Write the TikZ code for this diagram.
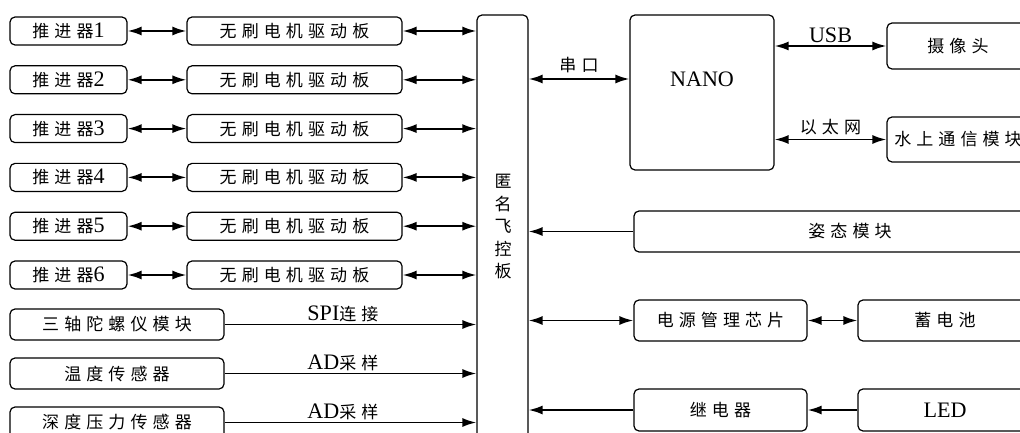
\documentclass[tikz,border=0pt]{standalone}
\usepackage{fontspec}
\setmainfont{Liberation Serif}[Scale=1.3]
\newfontfamily\cjk[LetterSpace=30]{Noto Sans CJK SC}
\newcommand{\hz}[1]{{\cjk #1}}
\usetikzlibrary{arrows.meta}
\begin{document}
\begin{tikzpicture}[x=1pt,y=-1pt,
  box/.style={draw,line width=1.2pt,rounded corners=5pt,inner sep=0pt,align=center,font=\fontsize{17}{20}\selectfont},
  tip/.tip={Latex[length=14pt,width=9pt]},
  conn/.style={line width=1.9pt,-tip},
  bconn/.style={line width=1.9pt,tip-tip},
  lbl/.style={font=\fontsize{17}{20}\selectfont,inner sep=0pt}
]
\useasboundingbox (0,0) rectangle (1020,433);
\clip (0,0) rectangle (1020,433);

% flight controller board
\node[box,minimum width=51,minimum height=445] (board) at (502.5,237.5) {};
\node[lbl,align=center,font=\fontsize{17}{22.5}\selectfont] (boardtxt) at (503,227) {\hz{匿}\\\hz{名}\\\hz{飞}\\\hz{控}\\\hz{板}};

% thrusters and drivers
\foreach \i/\y in {1/31,2/79.8,3/128.6,4/177.4,5/226.2,6/275}{
  \node[box,minimum width=117,minimum height=28] (t\i) at (68.5,\y) {\hz{推进器}\i};
  \node[box,minimum width=215,minimum height=28] (d\i) at (294.5,\y) {\hz{无刷电机驱动板}};
  \draw[bconn] (t\i.east) -- (d\i.west);
  \draw[bconn] (d\i.east) -- (d\i.east -| board.west);
}

% sensors
\node[box,minimum width=214,minimum height=31] (s1) at (117,324.5) {\hz{三轴陀螺仪模块}};
\node[box,minimum width=214,minimum height=31] (s2) at (117,373.5) {\hz{温度传感器}};
\node[box,minimum width=214,minimum height=31] (s3) at (117,422.5) {\hz{深度压力传感器}};
\draw[conn] (s1.east) -- (s1.east -| board.west) node[lbl,pos=0.47,above=2pt] {SPI\hz{连接}};
\draw[conn] (s2.east) -- (s2.east -| board.west) node[lbl,pos=0.47,above=2pt] {AD\hz{采样}};
\draw[conn] (s3.east) -- (s3.east -| board.west) node[lbl,pos=0.47,above=2pt] {AD\hz{采样}};

% NANO
\node[box,minimum width=144,minimum height=155] (nano) at (702,92.5) {};
\node[lbl] (nanotxt) at (702,79) {NANO};
\draw[bconn] (board.east |- nanotxt) -- (nano.west |- nanotxt) node[lbl,midway,above=5pt] {\hz{串口}};

\node[box,minimum width=142,minimum height=46] (cam) at (958,46) {\hz{摄像头}};
\node[box,minimum width=142,minimum height=45] (wcom) at (958,139.5) {\hz{水上通信模块}};
\draw[bconn] (nano.east |- cam) -- (cam.west) node[lbl,midway,above=2pt] {USB};
\draw[bconn] (nano.east |- wcom) -- (wcom.west) node[lbl,midway,above=4pt] {\hz{以太网}};

% right column
\node[box,minimum width=432,minimum height=41] (att) at (850,231.5) {\hz{姿态模块}};
\draw[conn] (att.west) -- (att.west -| board.east);

\node[box,minimum width=173,minimum height=41] (pwr) at (720.5,320.5) {\hz{电源管理芯片}};
\node[box,minimum width=174,minimum height=41] (bat) at (945,320.5) {\hz{蓄电池}};
\draw[bconn] (pwr.west -| board.east) -- (pwr.west);
\draw[bconn] (pwr.east) -- (bat.west);

\node[box,minimum width=173,minimum height=42] (rly) at (720.5,410) {\hz{继电器}};
\node[box,minimum width=174,minimum height=42] (led) at (945,410) {LED};
\draw[conn] (led.west) -- (rly.east);
\draw[conn] (rly.west) -- (rly.west -| board.east);
\end{tikzpicture}
\end{document}
